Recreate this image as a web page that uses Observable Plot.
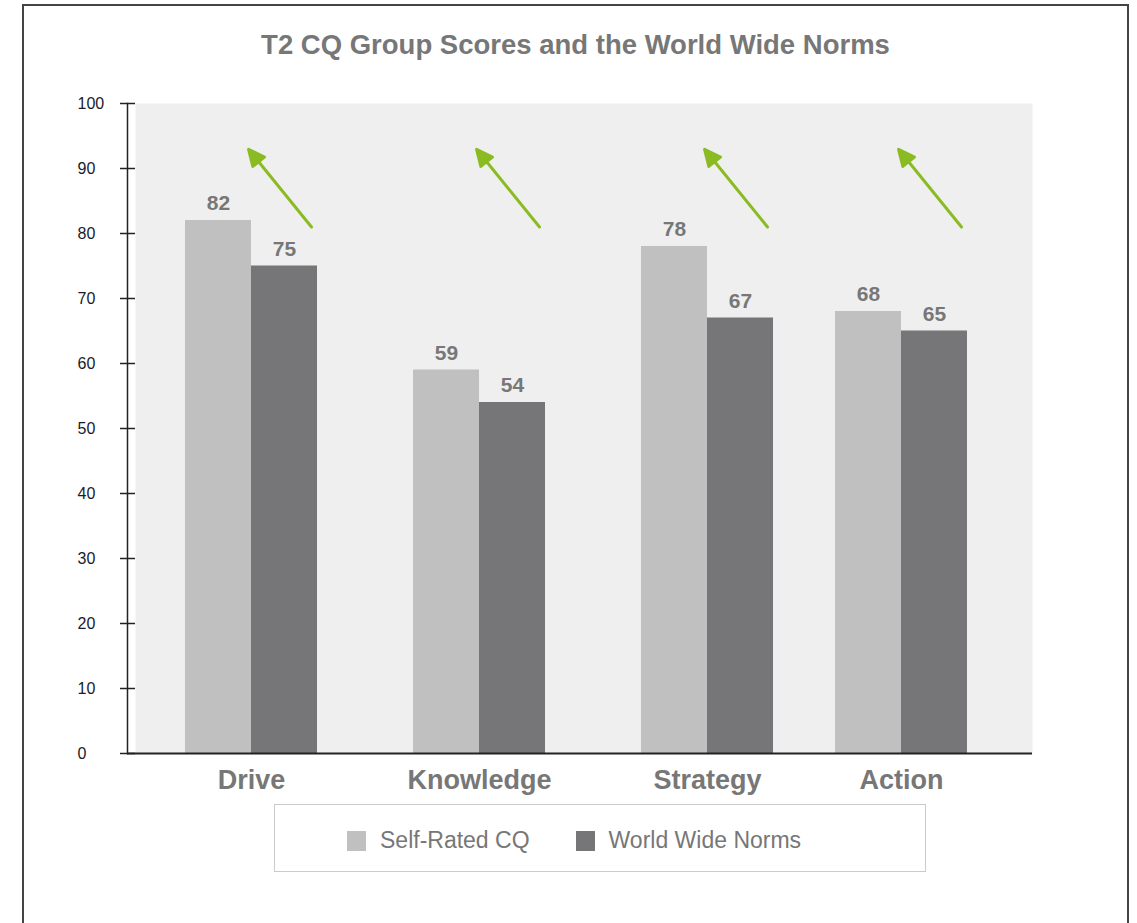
<!DOCTYPE html>
<html>
<head>
<meta charset="utf-8">
<script src="https://cdn.jsdelivr.net/npm/d3@7"></script>
<script src="https://cdn.jsdelivr.net/npm/@observablehq/plot@0.6"></script>
<style>
  body { margin: 0; background: #fff; font-family: Arial, "Liberation Sans", sans-serif; }
  #page { position: relative; width: 1137px; height: 923px; overflow: hidden; background: #fff; }
  #border { position: absolute; left: 22px; top: 4px; width: 1103px; height: 980px; border: 2px solid #444; }
  #title { position: absolute; left: 22px; width: 1107px; top: 30px; line-height: 30px; text-align: center;
           font-weight: bold; font-size: 27.5px; color: #777; }
  #chart { position: absolute; left: 0; top: 83px; }
  #legend { position: absolute; left: 274px; top: 804px; border: 1.5px solid #cbcbcb;
            display: flex; align-items: center; padding-left: 72px; padding-top: 5px; box-sizing: border-box;
            width: 652px; height: 68px; }
  .item { display: flex; align-items: center; font-size: 23px; color: #777; }
  .sw { width: 19px; height: 20px; margin-right: 14px; }
</style>
</head>
<body>
<div id="page">
  <div id="border"></div>
  <div id="title">T2 CQ Group Scores and the World Wide Norms</div>
  <div id="chart"></div>
  <div id="legend"></div>
</div>
<script>
const categories = ["Drive", "Knowledge", "Strategy", "Action"];
const seriesNames = ["Self-Rated CQ", "World Wide Norms"];
const selfRated = [82, 59, 78, 68];
const worldNorms = [75, 54, 67, 65];
const yTicks = [0, 10, 20, 30, 40, 50, 60, 70, 80, 90, 100];
const arrowBase = 81;

const colors = { "Self-Rated CQ": "#c0c0c0", "World Wide Norms": "#767577" };
const green = "#8bbb22";
const gray = "#777";

const rows = categories.flatMap((c, i) => [
  { category: c, series: seriesNames[0], value: selfRated[i] },
  { category: c, series: seriesNames[1], value: worldNorms[i] }
]);

const arrowShape = {
  draw(ctx, l) {
    const h = 16, w = 7.5;
    ctx.moveTo(0, 0);
    ctx.lineTo(0, -l + h);
    ctx.moveTo(0, -l);
    ctx.lineTo(-w, -l + h);
    ctx.lineTo(w, -l + h);
    ctx.closePath();
  }
};

function groupMarks(cats, shift) {
  const data = rows.filter(d => cats.includes(d.category));
  const s = data.filter(d => d.series === seriesNames[0]);
  const n = data.filter(d => d.series === seriesNames[1]);
  return [
    Plot.barY(s, { x: "category", y: "value", fill: colors[seriesNames[0]], insetLeft: 48, insetRight: 114, dx: shift }),
    Plot.barY(n, { x: "category", y: "value", fill: colors[seriesNames[1]], insetLeft: 114, insetRight: 48, dx: shift }),
    Plot.text(s, { x: "category", y: "value", text: d => String(d.value), dx: -33 + shift, dy: -17,
                   fontSize: 21, fontWeight: "bold", fill: gray }),
    Plot.text(n, { x: "category", y: "value", text: d => String(d.value), dx: 33 + shift, dy: -17,
                   fontSize: 21, fontWeight: "bold", fill: gray }),
    Plot.text(cats, { x: d => d, frameAnchor: "bottom", dy: 35, dx: shift, fontSize: 27,
                      fontWeight: "bold", fill: gray }),
    Plot.vector(cats, { x: d => d, y: () => arrowBase, length: 100, rotate: -39, anchor: "start",
                        dx: 60 + shift, stroke: green, fill: green, strokeWidth: 3, shape: arrowShape })
  ];
}

const chart = Plot.plot({
  width: 1137,
  height: 720,
  marginLeft: 127,
  marginRight: 105,
  marginTop: 20,
  marginBottom: 50,
  x: { type: "band", domain: categories, range: [137, 1049], padding: 0, axis: null },
  y: { domain: [0, 100], axis: null },
  style: { fontFamily: "Arial, 'Liberation Sans', sans-serif", background: "transparent", overflow: "visible" },
  marks: [
    Plot.frame({ fill: "#efefef", stroke: "none", insetLeft: 8 }),
    ...groupMarks(categories.slice(0, 3), 0),
    ...groupMarks(categories.slice(3), -34),
    Plot.frame({ anchor: "left", stroke: "#222", strokeWidth: 1.5 }),
    Plot.ruleY([0], { stroke: "#222", strokeWidth: 2 }),
    Plot.axisY(yTicks, { anchor: "left", label: null, tickSize: 15, dx: 8, tickPadding: 43, textAnchor: "start",
                         fontSize: 16, stroke: "#222", fill: "#1a1a2a", strokeWidth: 1.5 })
  ]
});
document.getElementById("chart").appendChild(chart);

const legend = document.getElementById("legend");
seriesNames.forEach((name, i) => {
  const item = document.createElement("div");
  item.className = "item";
  if (i > 0) item.style.marginLeft = "46px";
  const sw = document.createElement("span");
  sw.className = "sw";
  sw.style.background = colors[name];
  const t = document.createElement("span");
  t.textContent = name;
  item.appendChild(sw);
  item.appendChild(t);
  legend.appendChild(item);
});
</script>
</body>
</html>
